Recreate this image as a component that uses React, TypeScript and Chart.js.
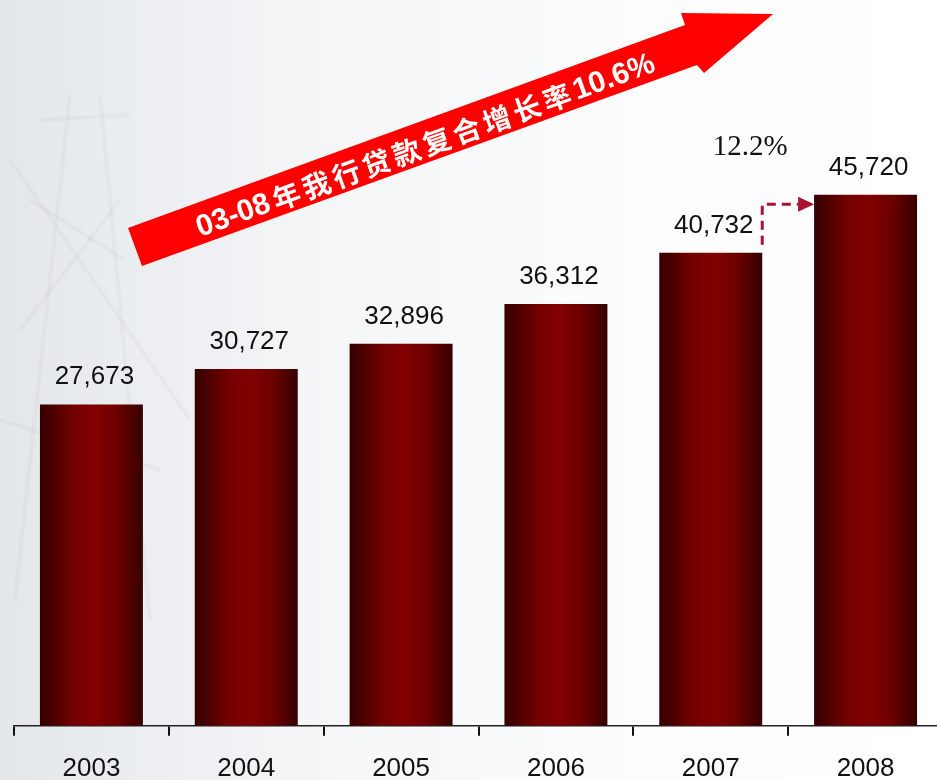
import React, { useEffect, useRef } from "react";
import { Chart, registerables } from "chart.js";

Chart.register(...registerables);

// ---- data ----
const years = ["2003", "2004", "2005", "2006", "2007", "2008"];
const loans = [27673, 30727, 32896, 36312, 40732, 45720];
const lastGrowthLabel = "12.2%";
const arrowTextParts = ["03-08", "年我行贷款复合增长率", "10.6%"];

// ---- styles ----
const W = 945;
const H = 801;
const BAR_PCT = 0.665;
const SANS = "'Liberation Sans', Arial, sans-serif";
const SERIF = "'Liberation Serif', 'Times New Roman', serif";
const CJK = "'Noto Sans CJK SC', sans-serif";

const ARROW = [
  [128, 228],
  [685, 25],
  [681, 13],
  [773, 14],
  [704, 73],
  [697, 65],
  [142, 266],
];

const fmt = (v: number) => v.toLocaleString("en-US");

const decor = {
  id: "decor",
  beforeDraw(chart: any) {
    const { ctx, width, height } = chart;
    ctx.save();
    const g = ctx.createLinearGradient(0, 0, width, 0);
    g.addColorStop(0, "#e3e7ea");
    g.addColorStop(0.12, "#eaedf0");
    g.addColorStop(0.35, "#f4f6f7");
    g.addColorStop(0.65, "#fcfcfd");
    g.addColorStop(1, "#ffffff");
    ctx.fillStyle = g;
    ctx.fillRect(0, 0, width, height);
    // faint background structure
    ctx.strokeStyle = "rgba(150,156,162,0.08)";
    ctx.lineWidth = 4;
    const lines = [
      [70, 95, 15, 600],
      [100, 95, 150, 620],
      [40, 120, 130, 115],
      [30, 200, 125, 260],
      [120, 200, 20, 330],
      [10, 160, 190, 420],
      [0, 420, 160, 470],
    ];
    for (const [a, b, c, d] of lines) {
      ctx.beginPath();
      ctx.moveTo(a, b);
      ctx.lineTo(c, d);
      ctx.stroke();
    }
    ctx.restore();
  },
  afterDatasetsDraw(chart: any) {
    const { ctx } = chart;
    const meta = chart.getDatasetMeta(0);
    const bars = meta.data;
    ctx.save();

    // value labels
    ctx.fillStyle = "#111";
    ctx.font = `26px ${SANS}`;
    ctx.textAlign = "center";
    ctx.textBaseline = "alphabetic";
    bars.forEach((b: any, i: number) => {
      ctx.fillText(fmt(loans[i]), b.x + 3, b.y - 20);
    });

    // dashed connector 2007 -> 2008
    const b7 = bars[4];
    const b8 = bars[5];
    const x0 = b7.x + b7.width / 2;
    const yBottom = b7.y - 8;
    const yTop = b8.y + 9.5;
    const xHead = b8.x - b8.width / 2;
    ctx.strokeStyle = "#a8112f";
    ctx.fillStyle = "#a8112f";
    ctx.lineWidth = 3;
    ctx.setLineDash([9, 6]);
    ctx.beginPath();
    ctx.moveTo(x0, yBottom);
    ctx.lineTo(x0, yTop);
    ctx.lineTo(xHead - 16, yTop);
    ctx.stroke();
    ctx.setLineDash([]);
    ctx.beginPath();
    ctx.moveTo(xHead - 16, yTop - 7.5);
    ctx.lineTo(xHead, yTop);
    ctx.lineTo(xHead - 16, yTop + 7.5);
    ctx.closePath();
    ctx.fill();

    // growth label
    ctx.fillStyle = "#111";
    ctx.font = `29px ${SERIF}`;
    ctx.textAlign = "center";
    ctx.fillText(lastGrowthLabel, x0 - 12, b8.y - 40);

    // big red arrow
    ctx.fillStyle = "#ff0000";
    ctx.beginPath();
    ARROW.forEach(([x, y], i) => (i ? ctx.lineTo(x, y) : ctx.moveTo(x, y)));
    ctx.closePath();
    ctx.fill();

    // arrow text
    ctx.translate(426, 144);
    ctx.rotate((-20 * Math.PI) / 180);
    ctx.fillStyle = "#ffffff";
    ctx.textAlign = "left";
    ctx.textBaseline = "middle";
    const digitFont = `bold 30px ${SANS}`;
    const cjkFont = `bold 28px ${CJK}`;
    const track = 4;
    const segs: { t: string; f: string; w: number }[] = [];
    arrowTextParts.forEach((p, i) => {
      if (i === 1) {
        ctx.font = cjkFont;
        for (const ch of p) segs.push({ t: ch, f: cjkFont, w: ctx.measureText(ch).width + track });
      } else {
        ctx.font = digitFont;
        segs.push({ t: p, f: digitFont, w: ctx.measureText(p).width + (i === 0 ? track : 2) });
      }
    });
    const total = segs.reduce((s, x) => s + x.w, 0);
    let cx = -total / 2;
    for (const s of segs) {
      ctx.font = s.f;
      ctx.fillText(s.t, cx, s.f === cjkFont ? 1 : 2);
      cx += s.w;
    }
    ctx.restore();
  },
};

export default function App() {
  const ref = useRef<HTMLCanvasElement>(null);
  useEffect(() => {
    if (!ref.current) return;
    const chart = new Chart(ref.current, {
      type: "bar",
      data: {
        labels: years,
        datasets: [
          {
            data: loans,
            barPercentage: BAR_PCT,
            categoryPercentage: 1,
            borderWidth: 0,
            backgroundColor: (c: any) => {
              const ch = c.chart;
              const xs = ch.scales && ch.scales.x;
              if (!xs || c.dataIndex === undefined || !xs.width) return "#780000";
              const cx = xs.getPixelForValue(c.dataIndex);
              const w = (xs.width / years.length) * BAR_PCT;
              const g = ch.ctx.createLinearGradient(cx - w / 2, 0, cx + w / 2, 0);
              g.addColorStop(0, "#360000");
              g.addColorStop(0.12, "#4a0000");
              g.addColorStop(0.32, "#740000");
              g.addColorStop(0.55, "#820000");
              g.addColorStop(0.75, "#6c0000");
              g.addColorStop(0.9, "#4c0000");
              g.addColorStop(1, "#340000");
              return g;
            },
          },
        ],
      },
      options: {
        responsive: false,
        animation: false,
        devicePixelRatio: 1,
        layout: { padding: { left: 14, right: 2, top: 0, bottom: 0 } },
        plugins: { legend: { display: false }, tooltip: { enabled: false } },
        scales: {
          x: {
            type: "category",
            offset: true,
            grid: {
              offset: true,
              drawOnChartArea: false,
              drawTicks: true,
              tickLength: 10,
              color: "#111",
              lineWidth: 2,
            },
            border: { display: true, color: "#222", width: 1.5 },
            ticks: {
              color: "#111",
              font: { family: SANS, size: 26 },
              padding: 17,
              maxRotation: 0,
              autoSkip: false,
            },
          },
          y: { display: false, min: 0, max: 62500 },
        },
      },
      plugins: [decor],
    });
    return () => chart.destroy();
  }, []);
  return (
    <div
      style={{
        position: "fixed",
        left: 0,
        top: 0,
        width: 937,
        height: 780,
        overflow: "hidden",
        background: "#fff",
      }}
    >
      <canvas ref={ref} width={W} height={H} style={{ display: "block" }} />
    </div>
  );
}
